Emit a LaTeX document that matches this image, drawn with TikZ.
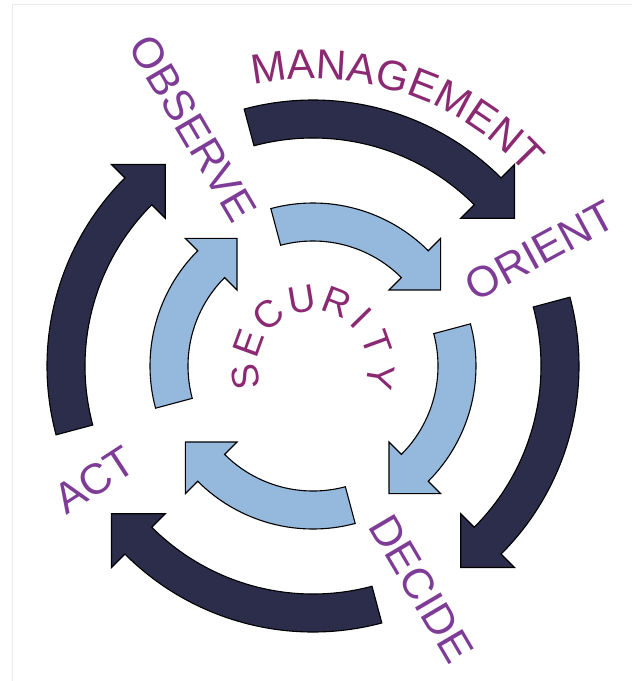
\documentclass[tikz,border=0pt]{standalone}
\usepackage{fontspec}
\setmainfont{Liberation Sans}
\usetikzlibrary{decorations.text,calc}
\definecolor{navy}{HTML}{2B2D4B}
\definecolor{lightblue}{HTML}{95B8DD}
\definecolor{magpurple}{HTML}{8B2A72}
\definecolor{violettxt}{HTML}{7E3C97}
\newcommand\ringarrow[5]{%
 \pgfmathsetmacro\RAmid{(#1+#2)/2}%
 \pgfmathsetmacro\RAtail{#3+60}%
 \pgfmathsetmacro\RAob{\RAmid+#4}%
 \pgfmathsetmacro\RAib{\RAmid-#4}%
 \pgfmathsetmacro\RAtipr{veclen(\RAmid,#4)}%
 \pgfmathsetmacro\RAtipa{#3-atan(#4/\RAmid)}%
 \draw[arrowline, fill=#5] ($(C)+(\RAtail:#2)$) arc[start angle=\RAtail, end angle=#3, radius=#2]
   -- ($(C)+(#3:\RAob)$) -- ($(C)+(\RAtipa:\RAtipr)$) -- ($(C)+(#3:\RAib)$) -- ($(C)+(#3:#1)$)
   arc[start angle=#3, end angle=\RAtail, radius=#1] -- cycle;
}
\begin{document}
\begin{tikzpicture}[x=1pt,y=1pt,
  arrowline/.style={draw=black, line width=1.1pt, line join=miter},
  labtxt/.style={font=\fontsize{43}{43}\selectfont, text=violettxt, inner sep=0pt},
  sectxt/.style={font=\fontsize{38}{38}\selectfont, text=magpurple, inner sep=0pt, anchor=base}]
\useasboundingbox (0,0) rectangle (632,-681);
\fill[white] (0,0) rectangle (632,-681);
\draw[black!8, line width=1pt] (12,-681) -- (12,-4) -- (632,-4);
\coordinate (C) at (313,-366);
% outer dark ring
\foreach \b in {45,-45,-135,135} {\ringarrow{228}{266}{\b}{38}{navy}}
% inner light ring
\foreach \b in {45,-45,-135,135} {\ringarrow{125}{163}{\b}{36.5}{lightblue}}
% curved MANAGEMENT
\path[decorate, decoration={text along path, text={|\fontsize{42}{42}\selectfont|MANAGEMENT}, text align=center, text color=magpurple}]
  ($(C)+(130:287)$) arc[start angle=130, end angle=14, radius=287];
% SECURITY letters
\foreach \ch/\ang in {S/189, E/160, C/131, U/99.5, R/69, I/44.5, T/20, Y/-9}
  {\node[sectxt, rotate=\ang-90] (sec\ch) at ($(C)+(\ang:55)$) {\ch};}
% straight labels
\node[labtxt, rotate=-59.5] (observe) at (193,-128.5) {OBSERVE};
\node[labtxt, rotate=28.5] (orient) at (540,-250.5) {ORIENT};
\node[labtxt, rotate=-59.5] (decide) at (421.5,-588.5) {DECIDE};
\node[labtxt, rotate=33] (act) at (94,-480) {ACT};
\end{tikzpicture}
\end{document}
